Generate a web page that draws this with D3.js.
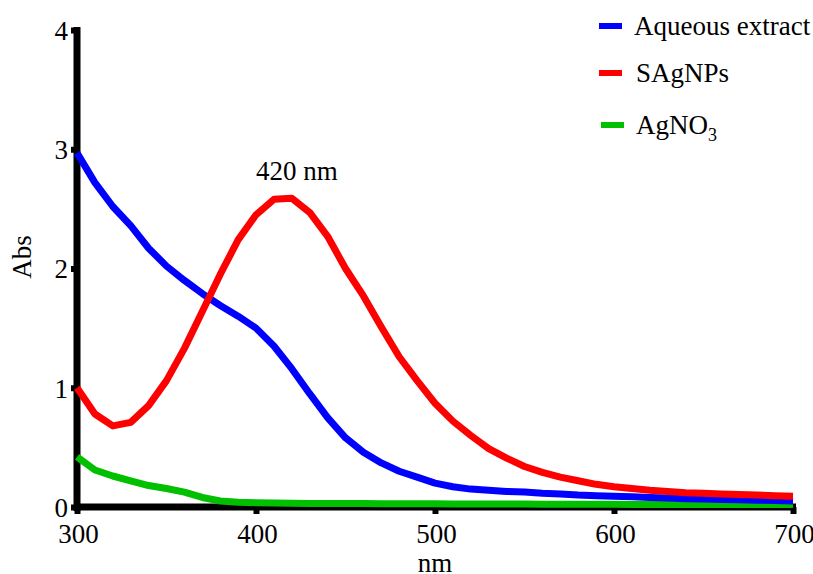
<!DOCTYPE html>
<html>
<head>
<meta charset="utf-8">
<script src="https://cdn.jsdelivr.net/npm/d3@7"></script>
<style>
    body { margin: 0; background: #fff; }
    svg { display: block; font-family: "Liberation Serif", "Times New Roman", serif; }
</style>
</head>
<body>
<div id="chart"></div>
<script>
(function () {
    "use strict";

    // wavelength (nm), 10 nm steps
    var wavelengths = d3.range(300, 701, 10);

    var aqueousExtract = [2.97, 2.72, 2.52, 2.36, 2.17, 2.02, 1.90, 1.79, 1.69, 1.60,
        1.50, 1.35, 1.16, 0.95, 0.75, 0.58, 0.46, 0.37, 0.30, 0.25,
        0.20, 0.17, 0.15, 0.14, 0.13, 0.125, 0.115, 0.11, 0.10, 0.095,
        0.09, 0.085, 0.08, 0.075, 0.07, 0.067, 0.063, 0.06, 0.057, 0.054, 0.05];

    var sagnps = [1.00, 0.78, 0.68, 0.71, 0.85, 1.06, 1.33, 1.64, 1.95, 2.24,
        2.45, 2.58, 2.59, 2.47, 2.27, 2.00, 1.77, 1.51, 1.26, 1.06,
        0.87, 0.72, 0.60, 0.49, 0.41, 0.34, 0.29, 0.25, 0.22, 0.19,
        0.17, 0.155, 0.14, 0.13, 0.12, 0.115, 0.11, 0.105, 0.10, 0.095, 0.09];

    var agno3 = [0.42, 0.31, 0.26, 0.22, 0.18, 0.155, 0.125, 0.08, 0.05, 0.04,
        0.035, 0.033, 0.031, 0.030, 0.030, 0.029, 0.029, 0.028, 0.028, 0.027,
        0.027, 0.026, 0.026, 0.025, 0.025, 0.025, 0.024, 0.024, 0.023, 0.023,
        0.023, 0.022, 0.022, 0.022, 0.021, 0.021, 0.021, 0.020, 0.020, 0.020, 0.020];

    var xTicks = [300, 400, 500, 600, 700];
    var yTicks = [0, 1, 2, 3, 4];

    var seriesNames = ["Aqueous extract", "SAgNPs", "AgNO3"];
    var seriesColors = ["#0000ff", "#ff0000", "#00c000"];
    var seriesValues = [aqueousExtract, sagnps, agno3];

    var peakLabel = "420 nm";
    var peakAt = 420;

    var width = 813, height = 574;
    var fontSize = "27px";

    var svg = d3.select("#chart").append("svg")
        .attr("width", width)
        .attr("height", height);

    var x = d3.scaleLinear().domain([300, 700]).range([77, 793]);
    var y = d3.scaleLinear().domain([0, 4]).range([507, 30]);

    // axes
    var xAxis = svg.append("g")
        .attr("transform", "translate(0," + y(0) + ")")
        .call(d3.axisBottom(x).tickValues(xTicks).tickSize(7).tickPadding(10));
    var yAxis = svg.append("g")
        .attr("transform", "translate(" + x(300) + ",0)")
        .call(d3.axisLeft(y).tickValues(yTicks).tickFormat(d3.format("d")).tickSize(6).tickPadding(3));

    [xAxis, yAxis].forEach(function (ax) {
        ax.select(".domain").remove();
        ax.selectAll(".tick line").attr("stroke", "#000").attr("stroke-width", 6);
        ax.selectAll(".tick text")
            .attr("fill", "#000")
            .style("font-size", fontSize)
            .style("font-family", "Liberation Serif");
    });
    xAxis.selectAll(".tick text").attr("dx", 1);
    yAxis.selectAll(".tick text").attr("dy", "0.35em");

    svg.append("line")
        .attr("x1", x(300)).attr("x2", x(300))
        .attr("y1", y(4) - 3).attr("y2", y(0) + 4)
        .attr("stroke", "#000").attr("stroke-width", 7);
    svg.append("line")
        .attr("x1", x(300) - 3).attr("x2", x(700) + 3)
        .attr("y1", y(0)).attr("y2", y(0))
        .attr("stroke", "#000").attr("stroke-width", 7);

    // axis titles
    svg.append("text")
        .attr("x", 435).attr("y", 572)
        .attr("text-anchor", "middle")
        .style("font-size", fontSize)
        .text("nm");
    svg.append("text")
        .attr("transform", "translate(31,257) rotate(-90)")
        .attr("text-anchor", "middle")
        .style("font-size", fontSize)
        .text("Abs");

    // curves
    var line = d3.line()
        .x(function (d, i) { return x(wavelengths[i]); })
        .y(function (d) { return y(d); });

    [2, 0, 1].forEach(function (k) {
        svg.append("path")
            .datum(seriesValues[k])
            .attr("d", line)
            .attr("fill", "none")
            .attr("stroke", seriesColors[k])
            .attr("stroke-width", 7)
            .attr("stroke-linejoin", "round");
    });

    // peak annotation
    svg.append("text")
        .attr("x", x(peakAt) + 5).attr("y", 180)
        .attr("text-anchor", "middle")
        .style("font-size", fontSize)
        .text(peakLabel);

    // legend
    var legendY = [26, 73, 125];
    var legend = svg.selectAll(".legend")
        .data(seriesNames)
        .enter()
        .append("g")
        .attr("class", "legend")
        .attr("transform", function (d, i) {
            return "translate(599," + legendY[i] + ")";
        });

    legend.append("line")
        .attr("x1", function (d, i) { return i === 2 ? 2 : 0; })
        .attr("x2", function (d, i) { return i === 2 ? 25 : 23; })
        .attr("stroke", function (d, i) { return seriesColors[i]; })
        .attr("stroke-width", 6);

    legend.append("text")
        .attr("x", function (d, i) { return i === 0 ? 35 : 37; })
        .attr("y", 9)
        .style("font-size", fontSize)
        .each(function (d) {
            var t = d3.select(this);
            if (d === "AgNO3") {
                t.append("tspan").text("AgNO");
                t.append("tspan").attr("dy", 7).style("font-size", "18px").text("3");
            } else {
                t.text(d);
            }
        });
})();
</script>
</body>
</html>
